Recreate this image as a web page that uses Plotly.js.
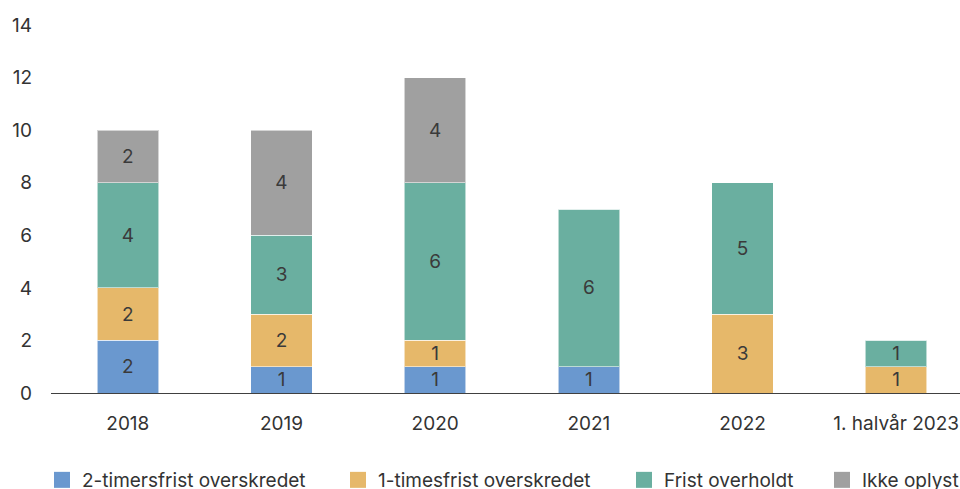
<!DOCTYPE html>
<html>
<head>
<meta charset="utf-8">
<script src="https://cdn.plot.ly/plotly-3.0.1.min.js"></script>
<style>
html,body{margin:0;padding:0;overflow:hidden;background:#fff;}
#chart{width:980px;height:489px;}
</style>
</head>
<body>
<div id="chart"></div>
<script>
const categories = ["2018", "2019", "2020", "2021", "2022", "1. halvår 2023"];
const seriesNames = ["2-timersfrist overskredet", "1-timesfrist overskredet", "Frist overholdt", "Ikke oplyst"];
const twoHour = [2, 1, 1, 1, 0, 0];
const oneHour = [2, 2, 1, 0, 3, 1];
const kept = [4, 3, 6, 6, 5, 1];
const unknown = [2, 4, 4, 0, 0, 0];
const colors = ["#6a98cf", "#e6b86a", "#6aafa0", "#a0a0a0"];
const yTicks = [0, 2, 4, 6, 8, 10, 12, 14];

const series = [twoHour, oneHour, kept, unknown];
const legendCenters = [62, 358, 644, 842];
const plotLeft = 51, plotW = 922, W = 980, H = 489;

const font = {family: "Inter, 'Liberation Sans', sans-serif", size: 19, color: "#333333"};
const legKey = i => (i === 0 ? "legend" : "legend" + (i + 1));

const barTraces = series.map((vals, i) => ({
  type: "bar",
  name: seriesNames[i],
  x: categories,
  y: vals,
  text: vals.map(v => v ? String(v) : ""),
  textposition: "inside",
  insidetextanchor: "middle",
  textangle: 0,
  constraintext: "none",
  textfont: {family: font.family, size: 19, color: "#3a3a3a"},
  marker: {color: colors[i], line: {color: "rgba(255,255,255,0.55)", width: 1}},
  showlegend: false,
  hoverinfo: "skip"
}));

const legendTraces = seriesNames.map((name, i) => ({
  type: "scatter",
  mode: "markers",
  name: name,
  x: [null],
  y: [null],
  marker: {symbol: "square", size: 16, color: colors[i], line: {width: 0}},
  legend: legKey(i),
  showlegend: true,
  hoverinfo: "skip"
}));

const layout = {
  width: W,
  height: H,
  margin: {l: plotLeft, r: W - plotLeft - plotW, t: 25, b: 96, autoexpand: false},
  barmode: "stack",
  bargap: 0.6,
  paper_bgcolor: "#ffffff",
  plot_bgcolor: "#ffffff",
  font: font,
  xaxis: {
    type: "category",
    categoryarray: categories,
    showline: true,
    linecolor: "#404040",
    linewidth: 1,
    showgrid: false,
    zeroline: false,
    ticks: "",
    ticklabelstandoff: 13,
    tickfont: font,
    automargin: false,
    fixedrange: true
  },
  yaxis: {
    range: [0, 14],
    tickvals: yTicks,
    showgrid: false,
    zeroline: false,
    showline: false,
    ticks: "",
    ticklabelstandoff: 18,
    tickfont: font,
    automargin: false,
    fixedrange: true
  },
  showlegend: true
};

legendCenters.forEach((cx, i) => {
  layout[legKey(i)] = {
    orientation: "h",
    xref: "container",
    yref: "container",
    x: (cx - 20) / W,
    xanchor: "left",
    y: (H - 480) / H,
    yanchor: "middle",
    font: font,
    itemsizing: "trace",
    bgcolor: "rgba(0,0,0,0)",
    borderwidth: 0
  };
});

Plotly.newPlot("chart", barTraces.concat(legendTraces), layout, {displayModeBar: false, staticPlot: true});
</script>
</body>
</html>
